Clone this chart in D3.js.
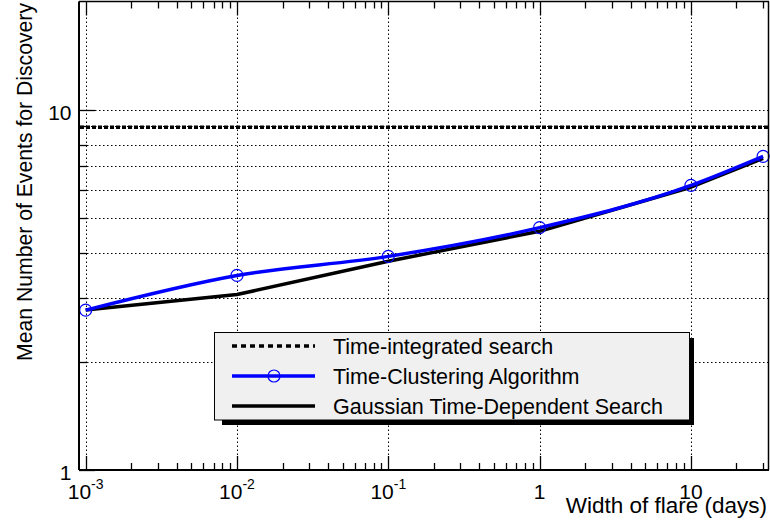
<!DOCTYPE html>
<html>
<head>
<meta charset="utf-8">
<script src="https://cdn.jsdelivr.net/npm/d3@7"></script>
<style>
  html, body { margin: 0; padding: 0; background: #fff; }
  svg { display: block; }
  text { font-family: "Liberation Sans", Arial, Helvetica, sans-serif; fill: #000; }
</style>
</head>
<body>
<svg id="chart" width="770" height="527"></svg>
<script>
// ---- data ----
const widthDays = [0.001, 0.01, 0.1, 1, 10, 30];
const clusteringEvents = [2.78, 3.47, 3.92, 4.71, 6.17, 7.43];
const gaussianEvents = [2.78, 3.07, 3.80, 4.60, 6.10, 7.33];
const timeIntegratedEvents = 8.95;
const xMajorTicks = [0.001, 0.01, 0.1, 1, 10];
const xTickLabels = [["10", "-3"], ["10", "-2"], ["10", "-1"], ["1", ""], ["10", ""]];
const yMajorTicks = [1, 10];
const yTickLabels = ["1", "10"];
const yGridValues = [2, 3, 4, 5, 6, 7, 8, 9, 10];
const legendLabels = ["Time-integrated search", "Time-Clustering Algorithm", "Gaussian Time-Dependent Search"];
const xTitle = "Width of flare (days)";
const yTitle = "Mean Number of Events for Discovery";

// ---- layout ----
const L = 79, R = 769, T = 1.5, B = 470;
const svg = d3.select("#chart");
const x = d3.scaleLog().domain([Math.pow(10, -3.044), Math.pow(10, 1.516)]).range([L, R]);
const y = d3.scaleLog().domain([1, 20]).range([B, T]);

// minor ticks
const xMinor = [];
for (let e = -4; e <= 2; e++) for (let m = 2; m <= 9; m++) {
  const v = m * Math.pow(10, e);
  if (v > x.domain()[0] && v < x.domain()[1]) xMinor.push(v);
}
const yMinor = [];
for (let e = 0; e <= 1; e++) for (let m = 2; m <= 9; m++) {
  const v = m * Math.pow(10, e);
  if (v > 1 && v < 20) yMinor.push(v);
}

// ---- grid ----
const grid = svg.append("g").attr("stroke", "#000").attr("stroke-width", 1).attr("stroke-dasharray", "1.5,2.5");
grid.selectAll("line.vx").data(xMajorTicks).join("line")
  .attr("x1", d => Math.round(x(d)) + 0.5).attr("x2", d => Math.round(x(d)) + 0.5)
  .attr("y1", T).attr("y2", B);
grid.selectAll("line.hy").data(yGridValues).join("line")
  .attr("x1", L).attr("x2", R)
  .attr("y1", d => Math.round(y(d)) + 0.5).attr("y2", d => Math.round(y(d)) + 0.5);

// ---- time-integrated dashed line ----
svg.append("line")
  .attr("x1", L + 1).attr("x2", R - 1)
  .attr("y1", y(timeIntegratedEvents)).attr("y2", y(timeIntegratedEvents))
  .attr("stroke", "#000").attr("stroke-width", 3.5).attr("stroke-dasharray", "4,2");

// ---- curves ----
const gaussPts = widthDays.map((d, i) => [x(d), y(gaussianEvents[i])]);
const clusPts = widthDays.map((d, i) => [x(d), y(clusteringEvents[i])]);
svg.append("path").attr("d", d3.line().curve(d3.curveLinear)(gaussPts))
  .attr("fill", "none").attr("stroke", "#000").attr("stroke-width", 3.5).attr("stroke-linejoin", "round");
svg.append("path").attr("d", d3.line().curve(d3.curveMonotoneX)(clusPts))
  .attr("fill", "none").attr("stroke", "#0000ff").attr("stroke-width", 3.5).attr("stroke-linejoin", "round");
svg.selectAll("circle.mk").data(clusPts).join("circle")
  .attr("cx", d => d[0]).attr("cy", d => d[1]).attr("r", 6)
  .attr("fill", "none").attr("stroke", "#0000ff").attr("stroke-width", 1.2);

// ---- frame & ticks ----
const ax = svg.append("g").attr("stroke", "#000");
ax.append("line").attr("x1", L).attr("x2", R).attr("y1", B).attr("y2", B).attr("stroke-width", 2);
ax.append("line").attr("x1", L).attr("x2", L).attr("y1", T).attr("y2", B).attr("stroke-width", 2);
ax.append("line").attr("x1", L).attr("x2", R).attr("y1", T).attr("y2", T).attr("stroke-width", 1.5);
ax.append("line").attr("x1", R - 0.5).attr("x2", R - 0.5).attr("y1", T).attr("y2", B).attr("stroke-width", 1.5);

// bottom & top ticks
ax.selectAll("line.bmaj").data(xMajorTicks).join("line")
  .attr("x1", d => Math.round(x(d)) + 0.5).attr("x2", d => Math.round(x(d)) + 0.5)
  .attr("y1", B).attr("y2", B - 14).attr("stroke-width", 1.3);
ax.selectAll("line.bmin").data(xMinor).join("line")
  .attr("x1", d => Math.round(x(d)) + 0.5).attr("x2", d => Math.round(x(d)) + 0.5)
  .attr("y1", B).attr("y2", B - 7).attr("stroke-width", 1.3);
ax.selectAll("line.tmaj").data(xMajorTicks).join("line")
  .attr("x1", d => Math.round(x(d)) + 0.5).attr("x2", d => Math.round(x(d)) + 0.5)
  .attr("y1", T).attr("y2", T + 14).attr("stroke-width", 1.3);
ax.selectAll("line.tmin").data(xMinor).join("line")
  .attr("x1", d => Math.round(x(d)) + 0.5).attr("x2", d => Math.round(x(d)) + 0.5)
  .attr("y1", T).attr("y2", T + 7).attr("stroke-width", 1.3);
// left ticks
ax.selectAll("line.lmaj").data(yMajorTicks).join("line")
  .attr("x1", L).attr("x2", L + 16)
  .attr("y1", d => Math.round(y(d)) + 0.5).attr("y2", d => Math.round(y(d)) + 0.5).attr("stroke-width", 1.3);
ax.selectAll("line.lmin").data(yMinor).join("line")
  .attr("x1", L).attr("x2", L + 8)
  .attr("y1", d => Math.round(y(d)) + 0.5).attr("y2", d => Math.round(y(d)) + 0.5).attr("stroke-width", 1.3);

// ---- tick labels ----
const xl = svg.append("g").attr("font-size", 21).attr("text-anchor", "middle");
xMajorTicks.forEach((v, i) => {
  const t = xl.append("text").attr("x", x(v)).attr("y", 499);
  t.append("tspan").text(xTickLabels[i][0]);
  if (xTickLabels[i][1]) {
    t.append("tspan").attr("font-size", 14).attr("dy", -10).text(xTickLabels[i][1]);
  }
});
svg.append("g").attr("font-size", 21).attr("text-anchor", "end")
  .selectAll("text").data(yMajorTicks).join("text")
  .attr("x", 71.5).attr("y", d => y(d) + 10)
  .text((d, i) => yTickLabels[i]);

// ---- axis titles ----
svg.append("text").attr("x", 767).attr("y", 513).attr("text-anchor", "end")
  .attr("font-size", 22.5).text(xTitle);
svg.append("text").attr("transform", "translate(32,3) rotate(-90)").attr("text-anchor", "end")
  .attr("font-size", 21.2).text(yTitle);

// ---- legend ----
const lg = svg.append("g");
lg.append("rect").attr("x", 222).attr("y", 338).attr("width", 472).attr("height", 87).attr("fill", "#000");
lg.append("rect").attr("x", 214.5).attr("y", 332.5).attr("width", 475).attr("height", 87.5)
  .attr("fill", "#f0f0f0").attr("stroke", "#000").attr("stroke-width", 1);
const rowY = [346, 376, 406];
lg.append("line").attr("x1", 232).attr("x2", 315).attr("y1", rowY[0]).attr("y2", rowY[0])
  .attr("stroke", "#000").attr("stroke-width", 3.5).attr("stroke-dasharray", "5,4");
lg.append("line").attr("x1", 232).attr("x2", 315).attr("y1", rowY[1]).attr("y2", rowY[1])
  .attr("stroke", "#0000ff").attr("stroke-width", 3.5);
lg.append("circle").attr("cx", 274).attr("cy", rowY[1]).attr("r", 6)
  .attr("fill", "none").attr("stroke", "#0000ff").attr("stroke-width", 1.2);
lg.append("line").attr("x1", 232).attr("x2", 315).attr("y1", rowY[2]).attr("y2", rowY[2])
  .attr("stroke", "#000").attr("stroke-width", 3.5);
lg.selectAll("text").data(legendLabels).join("text")
  .attr("x", 333).attr("y", (d, i) => rowY[i] + 8).attr("font-size", 21.5).text(d => d);
</script>
</body>
</html>
